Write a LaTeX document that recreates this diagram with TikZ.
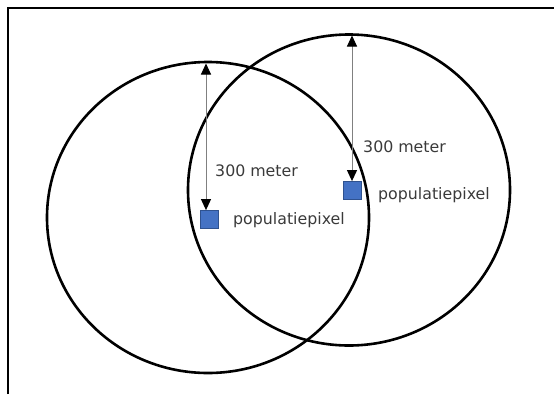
\documentclass[tikz,border=0pt]{standalone}
\usepackage{fontspec}
\setmainfont{DejaVu Sans}
\usetikzlibrary{arrows.meta,shapes.geometric}
\definecolor{txt}{HTML}{3A3A3A}
\definecolor{pixfill}{HTML}{4472C4}
\definecolor{pixdraw}{HTML}{2F528F}
\tikzset{
  zone/.style={ellipse, draw=black, line width=2.6pt, minimum width=322pt, minimum height=311pt, inner sep=0pt},
  pix/.style={rectangle, fill=pixfill, draw=pixdraw, line width=0.8pt, minimum size=18pt, inner sep=0pt},
  lbl/.style={anchor=base west, inner sep=0pt, text=txt, font=\fontsize{15.8}{18}\selectfont},
  dim/.style={draw=gray, line width=1pt, {Triangle[width=10pt,length=11pt,color=black]}-{Triangle[width=10pt,length=11pt,color=black]}}
}
\begin{document}
\begin{tikzpicture}[x=1pt,y=-1pt]
\useasboundingbox (0,0) rectangle (554,394);
\draw[line width=1.6pt] (8,394) -- (8,8) -- (554,8);
\node[zone] (c1) at (208,217.5) {};
\node[zone] (c2) at (349,190) {};
\node[pix] (p1) at (209.5,219.5) {};
\node[pix] (p2) at (352.5,190.5) {};
\coordinate (t1) at (206,63.5);
\coordinate (t2) at (352,35.5);
\draw[dim] (t1) -- (t1 |- p1.north);
\draw[dim] (t2) -- (t2 |- p2.north);
\node[lbl] (m1) at (215,176) {300 meter};
\node[lbl] (m2) at (363,152) {300 meter};
\node[lbl] (n1) at (233,224) {populatiepixel};
\node[lbl] (n2) at (378,199) {populatiepixel};
\end{tikzpicture}
\end{document}
